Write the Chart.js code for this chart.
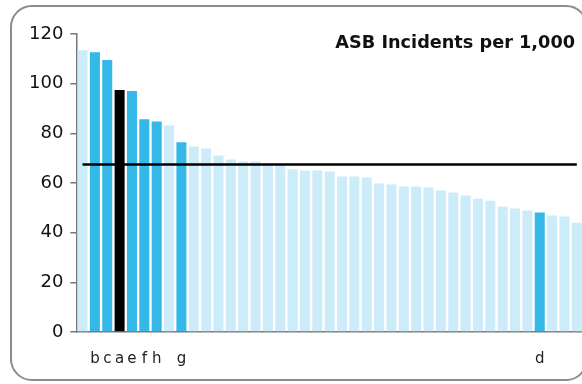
<!DOCTYPE html>
<html>
<head>
<meta charset="utf-8">
<script src="https://cdn.jsdelivr.net/npm/chart.js@4"></script>
<style>
  html, body { margin: 0; padding: 0; background: #fff; overflow: hidden; }
  #wrap { position: relative; width: 582px; height: 384px; overflow: hidden; }
  #frame {
    position: absolute; left: 10px; top: 5px; width: 574px; height: 372px;
    border: 2px solid #8c8c8c; border-radius: 22px; pointer-events: none;
  }
  canvas { position: absolute; left: 0; top: 0; }
</style>
</head>
<body>
<div id="wrap">
  <canvas id="asbChart" width="600" height="384"></canvas>
  <div id="frame"></div>
</div>
<script>
const titleText = 'ASB Incidents per 1,000'

const labels = [
  '', 'b', 'c', 'a', 'e', 'f', 'h', '', 'g', '',
  '', '', '', '', '', '', '', '', '', '',
  '', '', '', '', '', '', '', '', '', '',
  '', '', '', '', '', '', '', 'd', '', '',
  '',
]

const incidents = [
  113.5, 112.7, 109.5, 97.4, 97.0, 85.7, 84.8, 83.2, 76.4, 74.7,
  73.9, 71.1, 69.5, 68.7, 68.7, 67.8, 67.8, 65.5, 65.0, 65.0,
  64.6, 62.6, 62.6, 62.2, 59.8, 59.4, 58.6, 58.6, 58.2, 57.0,
  56.2, 55.0, 53.7, 52.9, 50.5, 49.7, 48.9, 48.1, 46.9, 46.5,
  44.0,
]

const average = 67.5
const yTicks = [0, 20, 40, 60, 80, 100, 120]

// highlighted areas and the selected one
const highlighted = ['b', 'c', 'e', 'f', 'h', 'g', 'd']
const selected = 'a'

const barColors = labels.map(l => {
  if (l === selected) return '#000000'
  if (highlighted.includes(l)) return '#33b8e8'
  return '#cdecf9'
})

const cornerTitle = {
  id: 'cornerTitle',
  afterDraw(chart) {
    const ctx = chart.ctx
    ctx.save()
    ctx.font = 'bold 17.7px "DejaVu Sans"'
    ctx.fillStyle = '#111'
    ctx.textAlign = 'right'
    ctx.textBaseline = 'alphabetic'
    ctx.fillText(titleText, 575, 48)
    ctx.restore()
  },
}

const chart = new Chart(document.getElementById('asbChart'), {
  type: 'bar',
  data: {
    labels: labels,
    datasets: [
      {
        type: 'line',
        label: 'Average',
        data: labels.map(() => average),
        borderColor: '#000',
        borderWidth: 2.5,
        pointRadius: 0,
        order: 0,
      },
      {
        label: 'ASB Incidents per 1,000',
        data: incidents,
        backgroundColor: barColors,
        barPercentage: 0.81,
        categoryPercentage: 1,
        order: 1,
      },
    ],
  },
  options: {
    responsive: false,
    animation: false,
    layout: {
      padding: { left: 22, top: 34, right: 17, bottom: -2 },
    },
    plugins: {
      legend: { display: false },
      title: { display: false },
      tooltip: { enabled: false },
    },
    scales: {
      x: {
        grid: { display: false, drawTicks: false },
        border: { display: true, color: '#777', width: 1.5 },
        ticks: {
          autoSkip: false,
          maxRotation: 0,
          padding: 18,
          color: '#222',
          font: { family: 'DejaVu Sans', size: 15 },
        },
      },
      y: {
        min: 0,
        max: 120,
        afterBuildTicks: axis => {
          axis.ticks = yTicks.map(v => ({ value: v }))
        },
        grid: {
          drawOnChartArea: false,
          drawTicks: true,
          tickLength: 6,
          color: '#777',
          lineWidth: 1.5,
        },
        border: { display: true, color: '#777', width: 1.5 },
        ticks: {
          padding: 7,
          color: '#111',
          font: { family: 'DejaVu Sans', size: 18 },
        },
      },
    },
  },
  plugins: [cornerTitle],
})
</script>
</body>
</html>
